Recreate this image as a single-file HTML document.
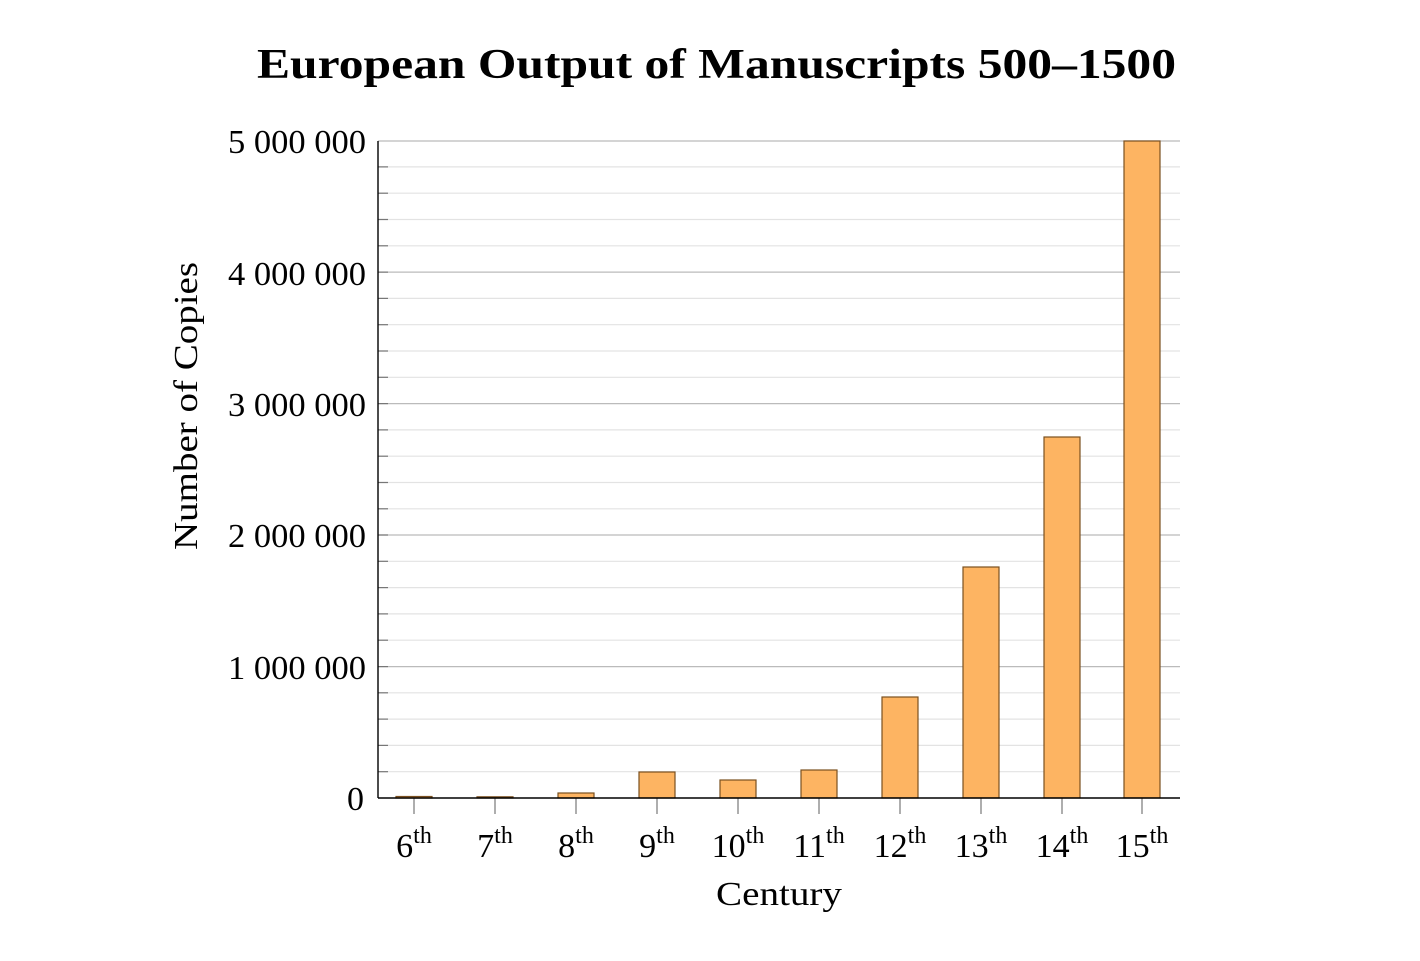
<!DOCTYPE html>
<html><head><meta charset="utf-8"><style>html,body{margin:0;padding:0;background:#fff}</style></head>
<body>
<svg width="1420" height="956" xmlns="http://www.w3.org/2000/svg" font-family="'Liberation Serif', serif">
<text x="257" y="78" font-size="42" font-weight="bold" textLength="919" lengthAdjust="spacingAndGlyphs">European Output of Manuscripts 500–1500</text>
<g stroke="#e3e3e3" stroke-width="1.2">
<line x1="378" x2="1180" y1="771.7" y2="771.7"/><line x1="378" x2="1180" y1="745.4" y2="745.4"/><line x1="378" x2="1180" y1="719.1" y2="719.1"/><line x1="378" x2="1180" y1="692.8" y2="692.8"/>
<line x1="378" x2="1180" y1="640.2" y2="640.2"/><line x1="378" x2="1180" y1="613.9" y2="613.9"/><line x1="378" x2="1180" y1="587.6" y2="587.6"/><line x1="378" x2="1180" y1="561.3" y2="561.3"/>
<line x1="378" x2="1180" y1="508.8" y2="508.8"/><line x1="378" x2="1180" y1="482.5" y2="482.5"/><line x1="378" x2="1180" y1="456.2" y2="456.2"/><line x1="378" x2="1180" y1="429.9" y2="429.9"/>
<line x1="378" x2="1180" y1="377.3" y2="377.3"/><line x1="378" x2="1180" y1="351" y2="351"/><line x1="378" x2="1180" y1="324.7" y2="324.7"/><line x1="378" x2="1180" y1="298.4" y2="298.4"/>
<line x1="378" x2="1180" y1="245.8" y2="245.8"/><line x1="378" x2="1180" y1="219.5" y2="219.5"/><line x1="378" x2="1180" y1="193.2" y2="193.2"/><line x1="378" x2="1180" y1="166.9" y2="166.9"/>
</g>
<g stroke="#bbb" stroke-width="1.2">
<line x1="378" x2="1180" y1="666.6" y2="666.6"/><line x1="378" x2="1180" y1="535" y2="535"/><line x1="378" x2="1180" y1="403.6" y2="403.6"/><line x1="378" x2="1180" y1="272.1" y2="272.1"/><line x1="378" x2="1180" y1="141" y2="141"/>
</g>
<g stroke="#777" stroke-width="1.2">
<line x1="378" x2="388" y1="771.7" y2="771.7"/><line x1="378" x2="388" y1="745.4" y2="745.4"/><line x1="378" x2="388" y1="719.1" y2="719.1"/><line x1="378" x2="388" y1="692.8" y2="692.8"/><line x1="378" x2="388" y1="666.6" y2="666.6"/>
<line x1="378" x2="388" y1="640.2" y2="640.2"/><line x1="378" x2="388" y1="613.9" y2="613.9"/><line x1="378" x2="388" y1="587.6" y2="587.6"/><line x1="378" x2="388" y1="561.3" y2="561.3"/><line x1="378" x2="388" y1="535" y2="535"/>
<line x1="378" x2="388" y1="508.8" y2="508.8"/><line x1="378" x2="388" y1="482.5" y2="482.5"/><line x1="378" x2="388" y1="456.2" y2="456.2"/><line x1="378" x2="388" y1="429.9" y2="429.9"/><line x1="378" x2="388" y1="403.6" y2="403.6"/>
<line x1="378" x2="388" y1="377.3" y2="377.3"/><line x1="378" x2="388" y1="351" y2="351"/><line x1="378" x2="388" y1="324.7" y2="324.7"/><line x1="378" x2="388" y1="298.4" y2="298.4"/><line x1="378" x2="388" y1="272.1" y2="272.1"/>
<line x1="378" x2="388" y1="245.8" y2="245.8"/><line x1="378" x2="388" y1="219.5" y2="219.5"/><line x1="378" x2="388" y1="193.2" y2="193.2"/><line x1="378" x2="388" y1="166.9" y2="166.9"/>
<line x1="414" x2="414" y1="798" y2="814"/><line x1="495" x2="495" y1="798" y2="814"/><line x1="576" x2="576" y1="798" y2="814"/><line x1="657" x2="657" y1="798" y2="814"/><line x1="738" x2="738" y1="798" y2="814"/>
<line x1="819" x2="819" y1="798" y2="814"/><line x1="900" x2="900" y1="798" y2="814"/><line x1="981" x2="981" y1="798" y2="814"/><line x1="1062" x2="1062" y1="798" y2="814"/><line x1="1142" x2="1142" y1="798" y2="814"/>
</g>
<g fill="#fdb462" stroke="#7a5020" stroke-width="1.2">
<rect x="396" y="796.5" width="36" height="1.5"/>
<rect x="477" y="796.8" width="36" height="1.2"/>
<rect x="558" y="793" width="36" height="5"/>
<rect x="639" y="772" width="36" height="26"/>
<rect x="720" y="780" width="36" height="18"/>
<rect x="801" y="770" width="36" height="28"/>
<rect x="882" y="697" width="36" height="101"/>
<rect x="963" y="567" width="36" height="231"/>
<rect x="1044" y="437" width="36" height="361"/>
<rect x="1124" y="141" width="36" height="657"/>
</g>
<line x1="378" x2="378" y1="141" y2="798" stroke="#000" stroke-width="1.4"/>
<line x1="378" x2="1180" y1="798" y2="798" stroke="#000" stroke-width="1.4"/>
<g font-size="34">
<text x="347" y="810">0</text>
<text x="228" y="679" textLength="138" lengthAdjust="spacingAndGlyphs">1 000 000</text>
<text x="228" y="547" textLength="138" lengthAdjust="spacingAndGlyphs">2 000 000</text>
<text x="228" y="416" textLength="138" lengthAdjust="spacingAndGlyphs">3 000 000</text>
<text x="228" y="285" textLength="138" lengthAdjust="spacingAndGlyphs">4 000 000</text>
<text x="228" y="153" textLength="138" lengthAdjust="spacingAndGlyphs">5 000 000</text>
</g>
<g font-size="34" text-anchor="middle">
<text x="414" y="857">6<tspan font-size="24" dy="-14">th</tspan></text>
<text x="495" y="857">7<tspan font-size="24" dy="-14">th</tspan></text>
<text x="576" y="857">8<tspan font-size="24" dy="-14">th</tspan></text>
<text x="657" y="857">9<tspan font-size="24" dy="-14">th</tspan></text>
<text x="738" y="857">10<tspan font-size="24" dy="-14">th</tspan></text>
<text x="819" y="857">11<tspan font-size="24" dy="-14">th</tspan></text>
<text x="900" y="857">12<tspan font-size="24" dy="-14">th</tspan></text>
<text x="981" y="857">13<tspan font-size="24" dy="-14">th</tspan></text>
<text x="1062" y="857">14<tspan font-size="24" dy="-14">th</tspan></text>
<text x="1142" y="857">15<tspan font-size="24" dy="-14">th</tspan></text>
</g>
<text x="716" y="905" font-size="34" textLength="126" lengthAdjust="spacingAndGlyphs">Century</text>
<text transform="translate(197,550) rotate(-90)" font-size="34" textLength="288" lengthAdjust="spacingAndGlyphs">Number of Copies</text>
</svg>
</body></html>
